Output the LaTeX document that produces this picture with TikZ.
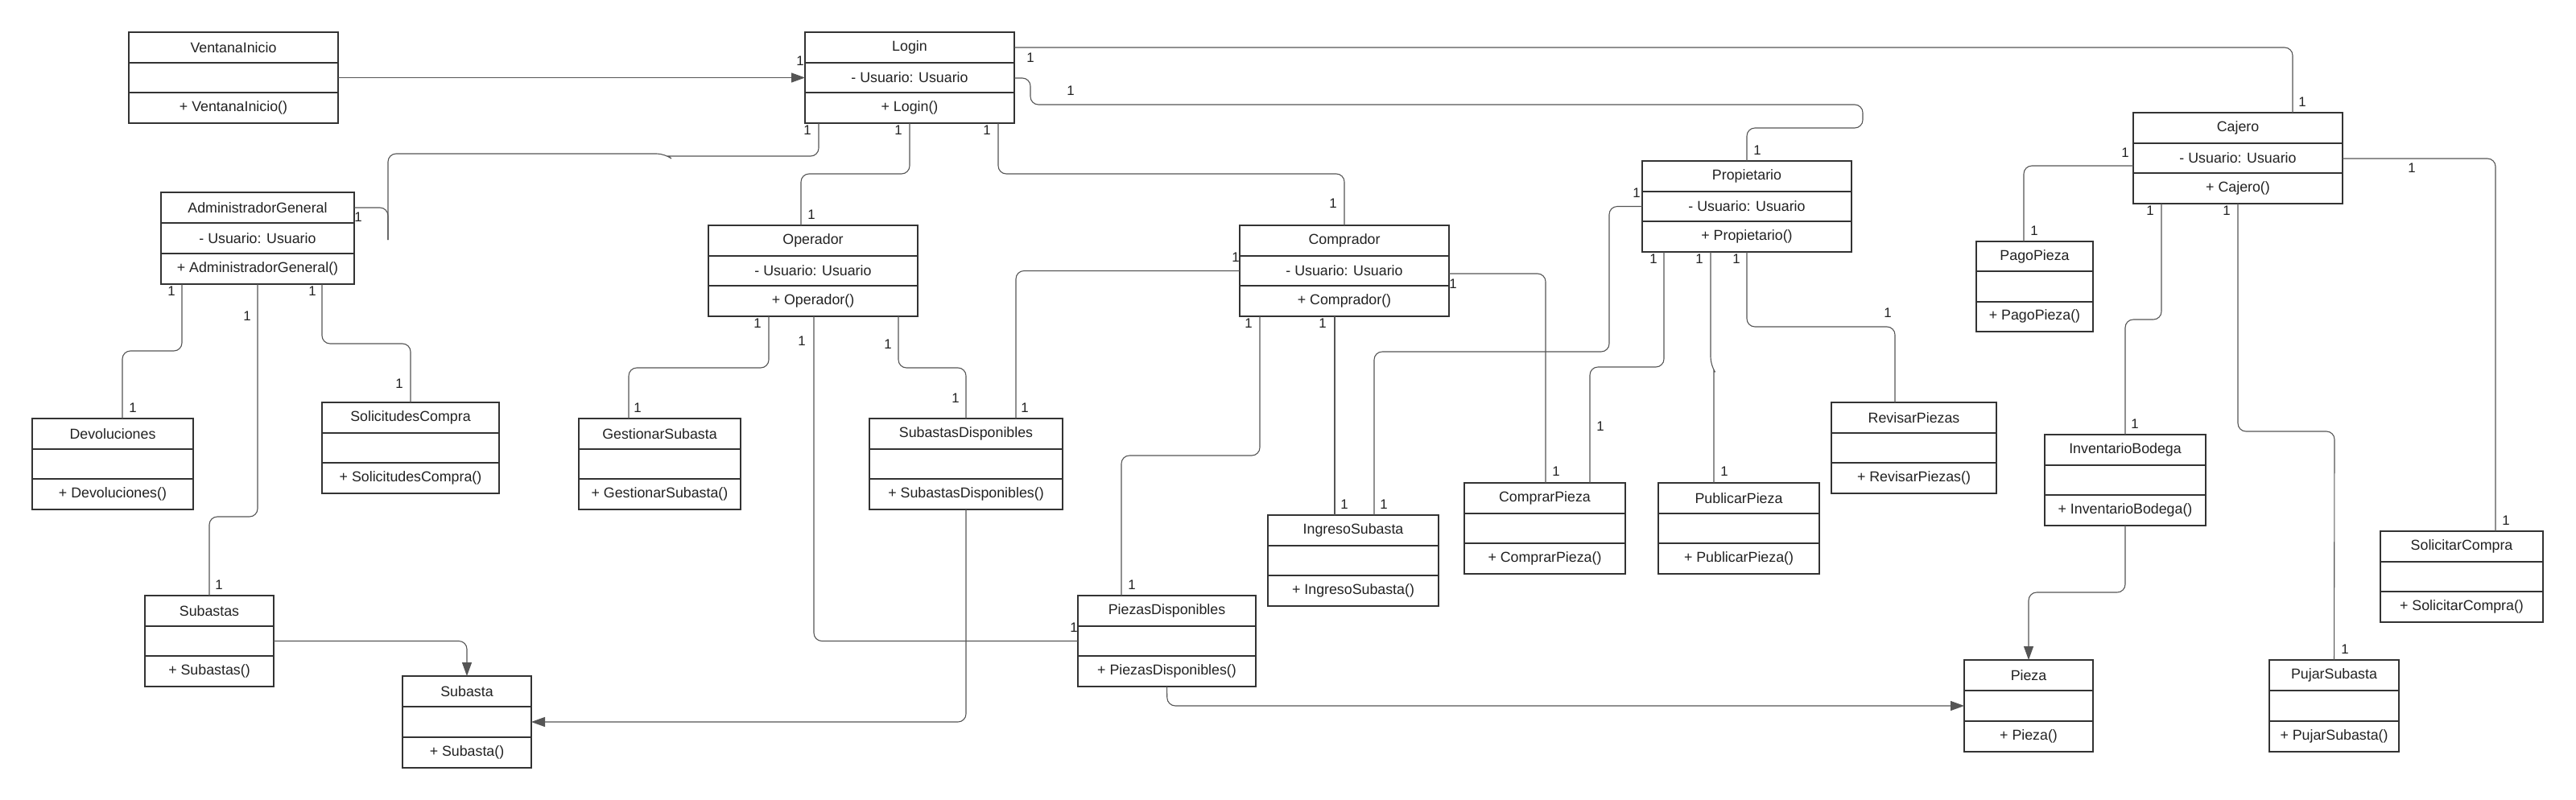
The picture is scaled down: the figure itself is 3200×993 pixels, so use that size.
\documentclass[tikz,border=0pt]{standalone}
\usepackage{fontspec}
\setmainfont{Liberation Sans}
\usetikzlibrary{arrows.meta,calc}
\definecolor{boxc}{HTML}{333333}
\definecolor{linec}{HTML}{555555}
\definecolor{txtc}{HTML}{222222}
\tikzset{
 classbox/.style={draw=boxc,line width=2.2pt,inner sep=0pt,outer sep=0pt,anchor=north west,fill=white},
 divider/.style={draw=boxc,line width=2.2pt},
 ctext/.style={font=\fontsize{17.8}{20}\selectfont,text=txtc,inner sep=0pt},
 conn/.style={draw=linec,line width=1.1pt,rounded corners=10pt},
 arr/.style={conn,-{Triangle[length=17pt,width=12pt]}},
 mult/.style={font=\fontsize{16.8}{18}\selectfont,text=txtc,inner sep=0pt},
}
\newcommand\umlclass[8]{%
 \node[classbox,minimum width=#4pt,minimum height=#5pt] (#1) at (#2,#3) {};
 \draw[divider] ($(#1.north west)!1/3!(#1.south west)$) -- ($(#1.north east)!1/3!(#1.south east)$);
 \draw[divider] ($(#1.north west)!2/3!(#1.south west)$) -- ($(#1.north east)!2/3!(#1.south east)$);
 \node[ctext] (#1-t) at ($(#1.north)!1/6!(#1.south)$) {#6};
 \node[ctext] (#1-a) at ($(#1.north)!1/2!(#1.south)$) {#7};
 \node[ctext] (#1-m) at ($(#1.north)!5/6!(#1.south)$) {#8};
}
\begin{document}
\begin{tikzpicture}[x=1pt,y=-1pt]
\useasboundingbox[fill=white] (0,0) rectangle (3200,993);

\umlclass{vi}{160}{40}{260}{113}{VentanaInicio}{}{+ VentanaInicio()}
\umlclass{login}{1000}{40}{260}{113}{Login}{- Usuario: Usuario}{+ Login()}
\umlclass{admin}{200}{239}{240}{114}{AdministradorGeneral}{- Usuario: Usuario}{+ AdministradorGeneral()}
\umlclass{oper}{880}{280}{260}{113}{Operador}{- Usuario: Usuario}{+ Operador()}
\umlclass{comp}{1540}{280}{260}{113}{Comprador}{- Usuario: Usuario}{+ Comprador()}
\umlclass{prop}{2040}{200}{260}{113}{Propietario}{- Usuario: Usuario}{+ Propietario()}
\umlclass{caj}{2650}{140}{260}{113}{Cajero}{- Usuario: Usuario}{+ Cajero()}
\umlclass{pago}{2455}{300}{145}{112}{PagoPieza}{}{+ PagoPieza()}
\umlclass{dev}{40}{520}{200}{113}{Devoluciones}{}{+ Devoluciones()}
\umlclass{solic}{400}{500}{220}{113}{SolicitudesCompra}{}{+ SolicitudesCompra()}
\umlclass{gest}{719}{520}{201}{113}{GestionarSubasta}{}{+ GestionarSubasta()}
\umlclass{subd}{1080}{520}{240}{113}{SubastasDisponibles}{}{+ SubastasDisponibles()}
\umlclass{ingr}{1575}{640}{212}{113}{IngresoSubasta}{}{+ IngresoSubasta()}
\umlclass{cpz}{1819}{600}{200}{113}{ComprarPieza}{}{+ ComprarPieza()}
\umlclass{ppz}{2060}{600}{200}{113}{PublicarPieza}{}{+ PublicarPieza()}
\umlclass{rev}{2275}{500}{205}{113}{RevisarPiezas}{}{+ RevisarPiezas()}
\umlclass{inv}{2540}{540}{200}{113}{InventarioBodega}{}{+ InventarioBodega()}
\umlclass{scomp}{2957}{660}{202}{113}{SolicitarCompra}{}{+ SolicitarCompra()}
\umlclass{subs}{180}{740}{160}{113}{Subastas}{}{+ Subastas()}
\umlclass{sub}{500}{840}{160}{114}{Subasta}{}{+ Subasta()}
\umlclass{pzd}{1339}{740}{221}{113}{PiezasDisponibles}{}{+ PiezasDisponibles()}
\umlclass{pz}{2440}{820}{160}{114}{Pieza}{}{+ Pieza()}
\umlclass{puj}{2819}{820}{161}{114}{PujarSubasta}{}{+ PujarSubasta()}

\coordinate (adminstub) at (482,298);

% connectors
\draw[arr] (vi.east) -- (login.west);
\draw[conn] (admin.east |- 0,258) -- (482,258) -- (adminstub);
\draw[conn] (adminstub) -- (482,191) -- (826,191) [sharp corners] -- (830,194) [rounded corners=10pt] -- (1017,194) -- (1017,0 |- login.south);
\draw[conn] (login.east |- 0,59) -- (2848,59) -- (2848,0 |- caj.north);
\draw[conn] (login.east |- 0,97) -- (1280,97) -- (1280,130) -- (2314,130) -- (2314,159) -- (2170,159) -- (prop.north);
\draw[conn] (1130,0 |- login.south) -- (1130,216) -- (995,216) -- (995,0 |- oper.north);
\draw[conn] (1240,0 |- login.south) -- (1240,216) -- (1670,216) -- (comp.north);
\draw[conn] (226,0 |- admin.south) -- (226,436) -- (152,436) -- (152,0 |- dev.north);
\draw[conn] (320,0 |- admin.south) -- (320,642) -- (260,642) -- (subs.north);
\draw[conn] (400,0 |- admin.south) -- (400,427) -- (510,427) -- (solic.north);
\draw[arr] (subs.east) -- (580,0 |- subs.east) -- (sub.north);
\draw[conn] (955,0 |- oper.south) -- (955,457) -- (781,457) -- (781,0 |- gest.north);
\draw[conn] (1011,0 |- oper.south) -- (1011,0 |- pzd.west) -- (pzd.west);
\draw[conn] (1116,0 |- oper.south) -- (1116,457) -- (1200,457) -- (subd.north);
\draw[conn] (comp.west) -- (1262,0 |- comp.west) -- (1262,0 |- subd.north);
\draw[arr] (subd.south) -- (1200,0 |- sub.east) -- (sub.east);
\draw[conn] (1565,0 |- comp.south) -- (1565,566) -- (1393,566) -- (1393,0 |- pzd.north);
\draw[conn] (1658,0 |- comp.south) -- (1658,0 |- ingr.north);
\draw[conn] (comp.east |- 0,340) -- (1920,340) -- (1920,0 |- cpz.north);
\draw[conn] (prop.west) -- (1999,0 |- prop.west) -- (1999,437) -- (1707,437) -- (1707,0 |- ingr.north);
\draw[conn] (2067,0 |- prop.south) -- (2067,456) -- (1975,456) -- (1975,0 |- cpz.north);
\draw[conn] (2125,0 |- prop.south) -- (2125,454) [sharp corners] -- (2129,460) -- (2129,0 |- ppz.north);
\draw[conn] (prop.south) -- (2170,406) -- (2354,406) -- (2354,0 |- rev.north);
\draw[conn] (caj.west |- 0,206) -- (2514,206) -- (2514,0 |- pago.north);
\draw[conn] (caj.east |- 0,197) -- (3100,197) -- (3100,0 |- scomp.north);
\draw[conn] (2685,0 |- caj.south) -- (2685,397) -- (2640,397) -- (inv.north);
\draw[conn] (caj.south) -- (2780,536) -- (2900,536) -- (puj.north);
\draw[arr] (inv.south) -- (2640,736) -- (2520,736) -- (pz.north);
\draw[arr] (pzd.south) -- (1450,0 |- pz.west) -- (pz.west);

% multiplicities
\foreach \x/\y [count=\i] in {994/76, 445/270, 1003/162, 1280/72, 2860/127, 1330/113, 2183/187,
 1116/162, 1008/267, 1226/162, 1656/253, 213/362, 165/507, 307/393, 272/727, 388/362, 496/477,
 941/402, 792/507, 996/424, 1334/780, 1103/428, 1187/495, 1535/320, 1273/507, 1551/402, 1406/727,
 1643/402, 1670/627, 1805/353, 1933/586, 2033/240, 1719/627, 2054/322, 1988/530, 2111/322,
 2142/586, 2157/322, 2345/389, 2640/190, 2527/287, 2996/209, 3113/647, 2671/262, 2652/527,
 2766/262, 2913/807}
 \node[mult] (m\i) at (\x,\y) {1};
\end{tikzpicture}
\end{document}
